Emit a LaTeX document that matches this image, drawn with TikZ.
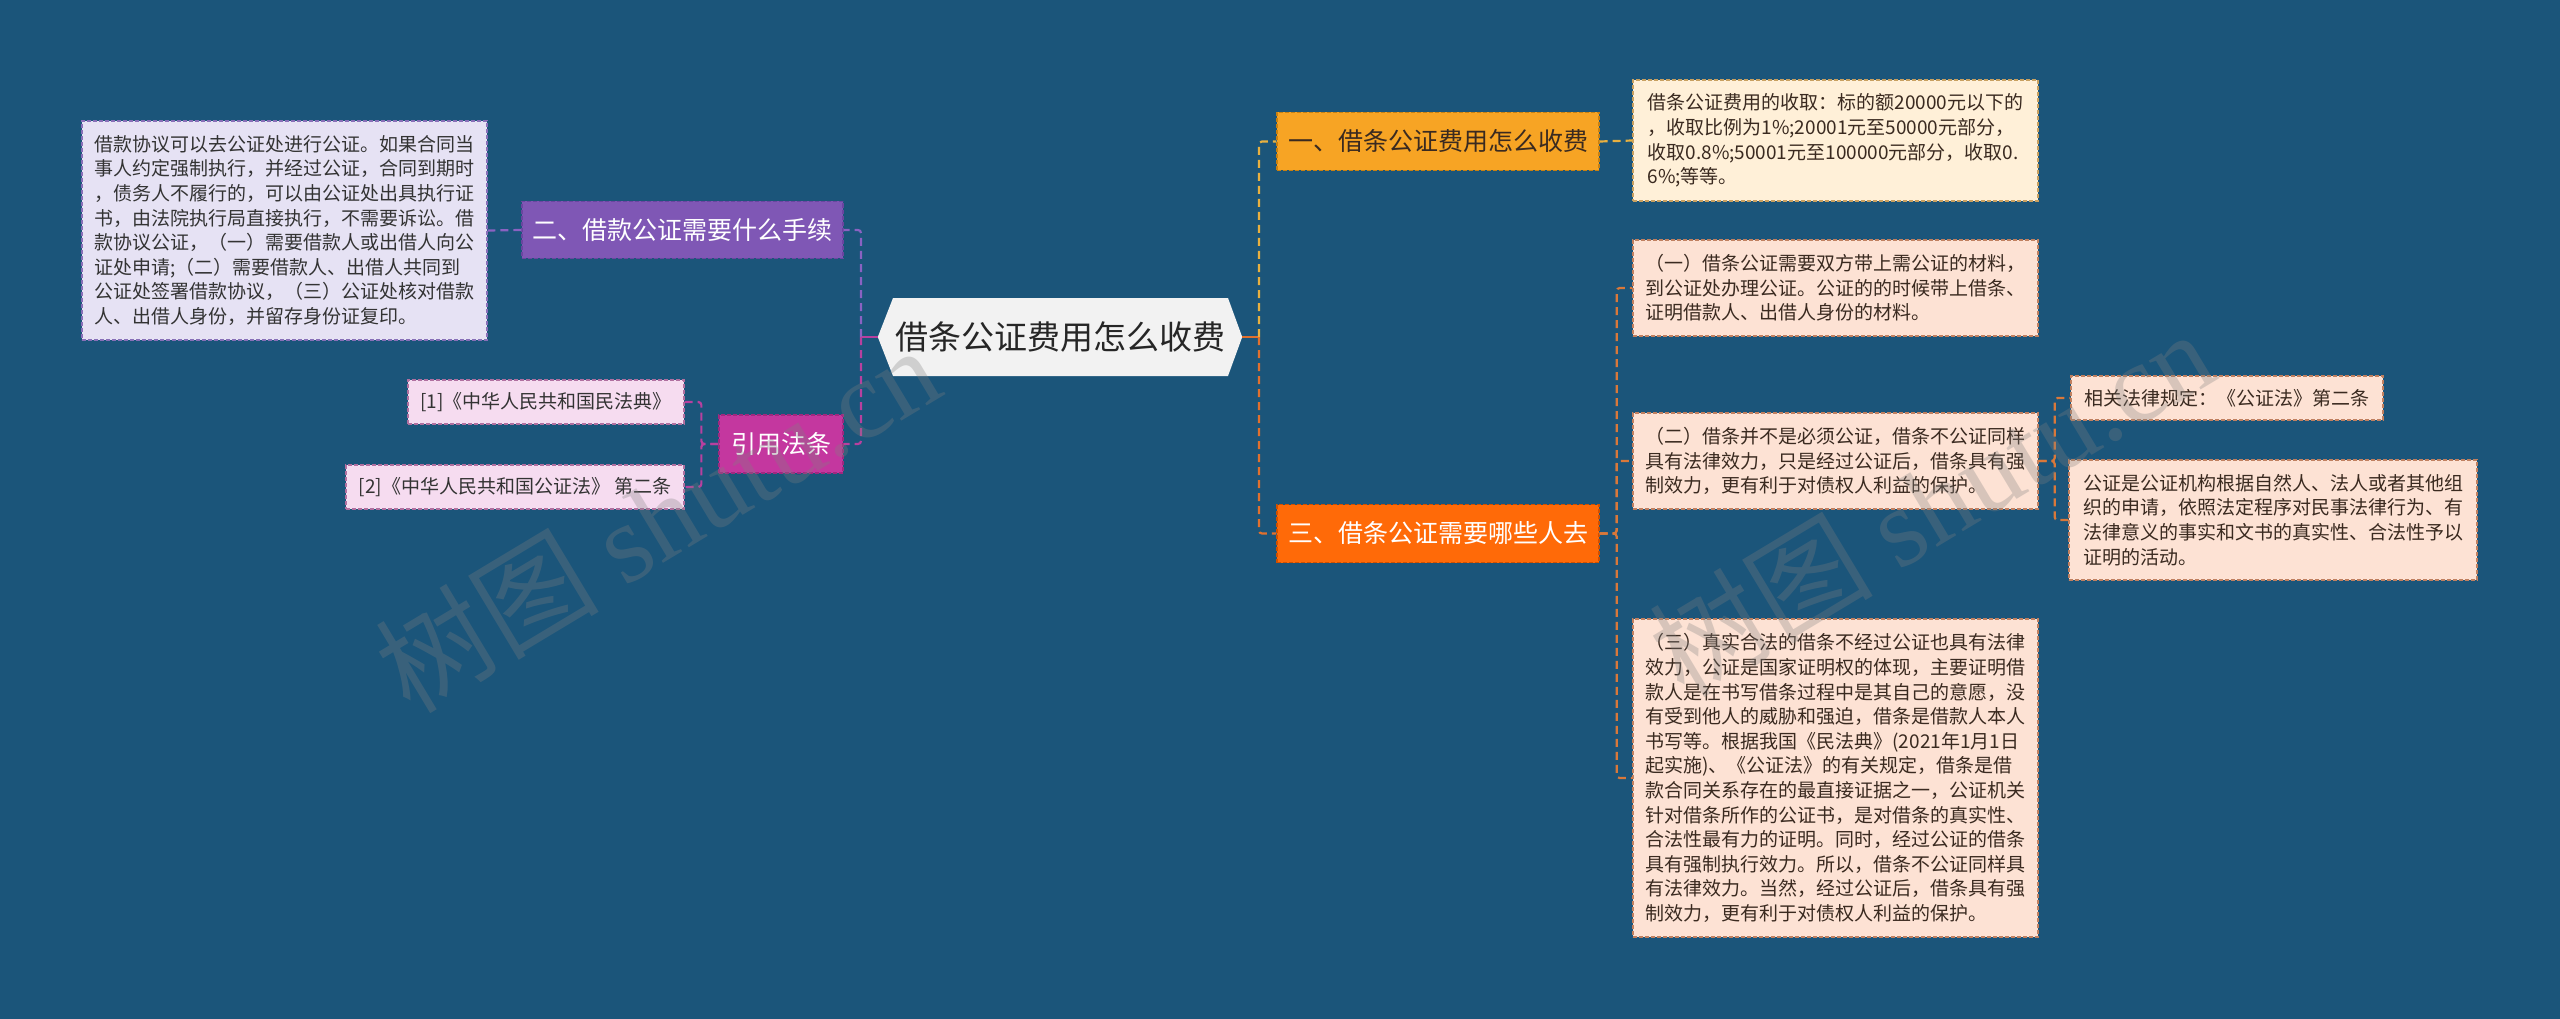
\documentclass[tikz,border=0pt]{standalone}
\usepackage{fontspec}
\setmainfont{Noto Sans CJK SC}
\newfontfamily\wmlat{Liberation Serif}
\definecolor{bgc}{HTML}{1B557A}
\definecolor{rootfill}{HTML}{F2F2F2}
\definecolor{purp}{HTML}{7F57B5}
\definecolor{purpd}{HTML}{6A45A0}
\definecolor{lav}{HTML}{E6E2F4}
\definecolor{lavd}{HTML}{8870B8}
\definecolor{mag}{HTML}{C4379F}
\definecolor{magd}{HTML}{A02880}
\definecolor{pinkl}{HTML}{F6DCF0}
\definecolor{pinkd}{HTML}{B070A0}
\definecolor{yel}{HTML}{F7A424}
\definecolor{yeld}{HTML}{C88010}
\definecolor{cream}{HTML}{FFF0D8}
\definecolor{creamd}{HTML}{C8A060}
\definecolor{orn}{HTML}{FF6A08}
\definecolor{ornd}{HTML}{D05000}
\definecolor{peach}{HTML}{FDE2D4}
\definecolor{peachd}{HTML}{C08060}
\definecolor{cpurp}{HTML}{8A62C2}
\definecolor{cmag}{HTML}{B8409F}
\definecolor{cyel}{HTML}{E8B040}
\definecolor{corn}{HTML}{E0702E}
\definecolor{cbrn}{HTML}{D9783A}
\definecolor{txtd}{HTML}{3A2A20}
\begin{document}
\begin{tikzpicture}[x=1pt,y=-1pt,
  box/.style={rectangle, inner sep=0pt, draw, dash pattern=on 4pt off 2pt, line width=1.3pt, align=left},
  small/.style={font={\fontsize{19}{24.6}\selectfont}},
  big/.style={font={\fontsize{25}{30}\selectfont}},
  conn/.style={dash pattern=on 8pt off 5pt, line width=2.2pt, rounded corners=3pt},
  stub/.style={line width=2.6pt},
  wm/.style={rotate=31, text=gray, opacity=0.3, font={\fontsize{112}{120}\selectfont}}
]
\fill[bgc] (0,0) rectangle (2560,1019);
\useasboundingbox (0,0) rectangle (2560,1019);

% root
\node[minimum width=364pt, minimum height=78pt, inner sep=0pt] (root) at (1060,337) {};
\fill[rootfill] (root.west) -- (893,298) -- (1228,298) -- (root.east) -- (1228,376) -- (893,376) -- cycle;
\node[text=black!85, font={\fontsize{33}{38}\selectfont}] (roottext) at (root.center) {借条公证费用怎么收费};

% left branches
\node[box, big, fill=purp, draw=purpd, text=white, minimum width=321pt, minimum height=57pt] (b2) at (682.5,230) {二、借款公证需要什么手续};
\node[box, small, fill=lav, draw=lavd, text=black!80, minimum width=405pt, minimum height=219pt] (t2) at (284.5,230.5)
{借款协议可以去公证处进行公证。如果合同当\\事人约定强制执行，并经过公证，合同到期时\\，债务人不履行的，可以由公证处出具执行证\\书，由法院执行局直接执行，不需要诉讼。借\\款协议公证，（一）需要借款人或出借人向公\\证处申请;（二）需要借款人、出借人共同到\\公证处签署借款协议，（三）公证处核对借款\\人、出借人身份，并留存身份证复印。};
\node[box, big, fill=mag, draw=magd, text=white, minimum width=124pt, minimum height=58pt] (b4) at (781,444) {引用法条};
\node[box, small, fill=pinkl, draw=pinkd, text=black!80, minimum width=276pt, minimum height=44pt] (r1) at (546,402) {[1]《中华人民共和国民法典》};
\node[box, small, fill=pinkl, draw=pinkd, text=black!80, minimum width=338pt, minimum height=44pt] (r2) at (515,487) {[2]《中华人民共和国公证法》 第二条};

% right branches
\node[box, big, fill=yel, draw=yeld, text=txtd, minimum width=322pt, minimum height=58pt] (b1) at (1438,141.5) {一、借条公证费用怎么收费};
\node[box, small, fill=cream, draw=creamd, text=txtd, minimum width=405pt, minimum height=121pt] (t1) at (1835.5,140.5)
{借条公证费用的收取：标的额20000元以下的\\，收取比例为1\%;20001元至50000元部分，\\收取0.8\%;50001元至100000元部分，收取0.\\6\%;等等。};
\node[box, big, fill=orn, draw=ornd, text=white, minimum width=322pt, minimum height=58pt] (b3) at (1438,533.5) {三、借条公证需要哪些人去};
\node[box, small, fill=peach, draw=peachd, text=txtd, minimum width=405pt, minimum height=96pt] (c1) at (1835.5,288)
{（一）借条公证需要双方带上需公证的材料，\\到公证处办理公证。公证的的时候带上借条、\\证明借款人、出借人身份的材料。};
\node[box, small, fill=peach, draw=peachd, text=txtd, minimum width=405pt, minimum height=96pt] (c2) at (1835.5,461)
{（二）借条并不是必须公证，借条不公证同样\\具有法律效力，只是经过公证后，借条具有强\\制效力，更有利于对债权人利益的保护。};
\node[box, small, fill=peach, draw=peachd, text=txtd, minimum width=405pt, minimum height=318pt] (c3) at (1835.5,778)
{（三）真实合法的借条不经过公证也具有法律\\效力，公证是国家证明权的体现，主要证明借\\款人是在书写借条过程中是其自己的意愿，没\\有受到他人的威胁和强迫，借条是借款人本人\\书写等。根据我国《民法典》(2021年1月1日\\起实施)、《公证法》的有关规定，借条是借\\款合同关系存在的最直接证据之一，公证机关\\针对借条所作的公证书，是对借条的真实性、\\合法性最有力的证明。同时，经过公证的借条\\具有强制执行效力。所以，借条不公证同样具\\有法律效力。当然，经过公证后，借条具有强\\制效力，更有利于对债权人利益的保护。};
\node[box, small, fill=peach, draw=peachd, text=txtd, minimum width=312pt, minimum height=44pt] (d1) at (2227,398) {相关法律规定：《公证法》第二条};
\node[box, small, fill=peach, draw=peachd, text=txtd, minimum width=408pt, minimum height=120pt] (d2) at (2273,520)
{公证是公证机构根据自然人、法人或者其他组\\织的申请，依照法定程序对民事法律行为、有\\法律意义的事实和文书的真实性、合法性予以\\证明的活动。};

% connectors
\coordinate (rs) at (1259,337);
\coordinate (ls) at (861,337);
\draw[stub, corn] (root.east) -- (rs);
\draw[stub, cmag] (root.west) -- (ls);
\draw[conn, cyel] (rs) |- (b1.west);
\draw[conn, corn] (rs) |- (b3.west);
\draw[conn, cpurp] (ls) |- (b2.east);
\draw[conn, cmag] (ls) |- (b4.east);
\draw[conn, cpurp] (b2.west) -- (t2.east);
\draw[conn, cmag] (b4.west) -- ++(-17,0) |- (r1.east);
\draw[conn, cmag] (b4.west) -- ++(-17,0) |- (r2.east);
\draw[conn, cyel] (b1.east) -- (t1.west);
\draw[conn, cbrn] (b3.east) -- ++(17,0) |- (c1.west);
\draw[conn, cbrn] (b3.east) -- ++(17,0) |- (c2.west);
\draw[conn, cbrn] (b3.east) -- ++(17,0) |- (c3.west);
\draw[conn, cbrn] (c2.east) -- ++(16,0) |- (d1.west);
\draw[conn, cbrn] (c2.east) -- ++(16,0) |- (d2.west);

% watermarks
\node[wm] (wm1) at (657,518) {树图 {\wmlat shutu.cn}};
\node[wm] (wm2) at (1931,502) {树图 {\wmlat shutu.cn}};
\end{tikzpicture}
\end{document}
